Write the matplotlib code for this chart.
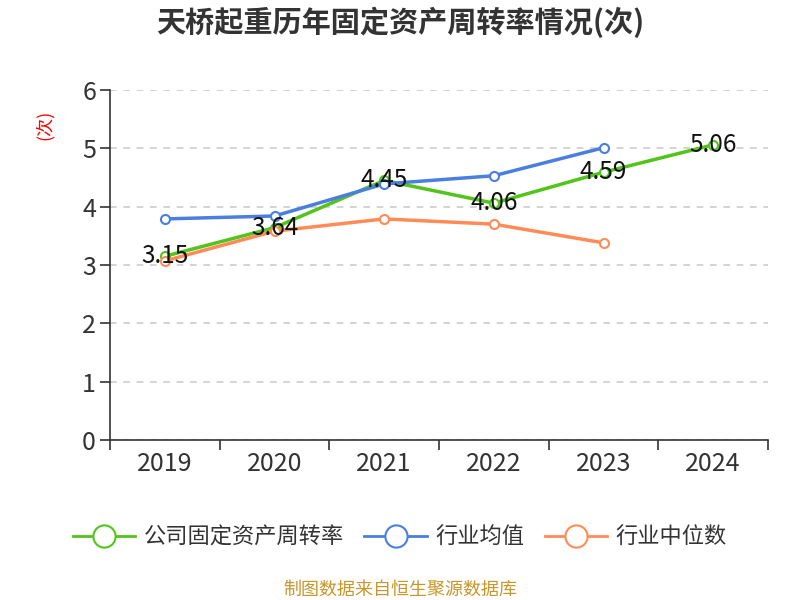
import matplotlib
matplotlib.use("Agg")
import matplotlib.pyplot as plt
from matplotlib.lines import Line2D

plt.rcParams['font.family'] = ['Noto Sans CJK SC', 'DejaVu Sans']

years = ['2019', '2020', '2021', '2022', '2023', '2024']
company = [3.15, 3.64, 4.45, 4.06, 4.59, 5.06]
industry_avg = [3.79, 3.84, 4.39, 4.53, 5.01]
industry_median = [3.07, 3.58, 3.79, 3.70, 3.38]
series_names = ['公司固定资产周转率', '行业均值', '行业中位数']
colors = ['#52c41a', '#4a7fe0', '#ff8b57']

fig = plt.figure(figsize=(8, 6), dpi=100)
ax = fig.add_axes([0.1375, 0.2667, 0.8225, 0.5833])

x_all = list(range(len(years)))
data = [company, industry_avg, industry_median]
for vals, c in zip(data, colors):
    xs = x_all[:len(vals)]
    ax.plot(xs, vals, color=c, lw=2.5, marker='o', ms=6.5,
            mfc='white', mec=c, mew=1.5, zorder=3)

for xi, v in zip(x_all, company):
    ax.text(xi, v, f'{v:.2f}', ha='center', va='center', fontsize=17.5,
            color='#111111', zorder=5)

ax.set_xlim(-0.5, len(years) - 0.5)
ax.set_ylim(0, 6)
ax.set_yticks(range(0, 7))
ax.set_xticks(x_all)
ax.set_xticklabels(years)
ax.set_xticks([i - 0.5 for i in range(len(years) + 1)], minor=True)
ax.tick_params(axis='x', which='major', length=0, labelsize=18,
               labelcolor='#333333', pad=8)
ax.tick_params(axis='x', which='minor', length=7, color='#333333', width=1.2)
ax.tick_params(axis='y', length=7, color='#333333', width=1.2,
               labelsize=18, labelcolor='#333333', pad=3)

for s in ['top', 'right']:
    ax.spines[s].set_visible(False)
for s in ['left', 'bottom']:
    ax.spines[s].set_color('#333333')
    ax.spines[s].set_linewidth(1.2)

ax.grid(axis='y', color='#cccccc', ls=(0, (4, 4)), lw=1.2)
ax.set_axisbelow(True)

ax.set_ylabel('(次)', color='red', fontsize=13)
ax.yaxis.set_label_coords(-0.085, 0.9)

fig.text(0.5, 0.962, '天桥起重历年固定资产周转率情况(次)', ha='center', va='center',
         fontsize=21, fontweight='bold', color='#333333')

handles = [Line2D([0], [0], color=c, lw=2, marker='o', ms=16, mfc='white',
                  mec=c, mew=1.5) for c in colors]
fig.legend(handles, series_names, loc='center', bbox_to_anchor=(0.5, 0.105),
           ncol=3, frameon=False, fontsize=16, handlelength=2.8,
           columnspacing=0.9, handletextpad=0.4, labelcolor='#333333')

fig.text(0.5, 0.017, '制图数据来自恒生聚源数据库', ha='center', va='center',
         fontsize=13, color='#c8962a')

fig.savefig('out.png', dpi=100)
